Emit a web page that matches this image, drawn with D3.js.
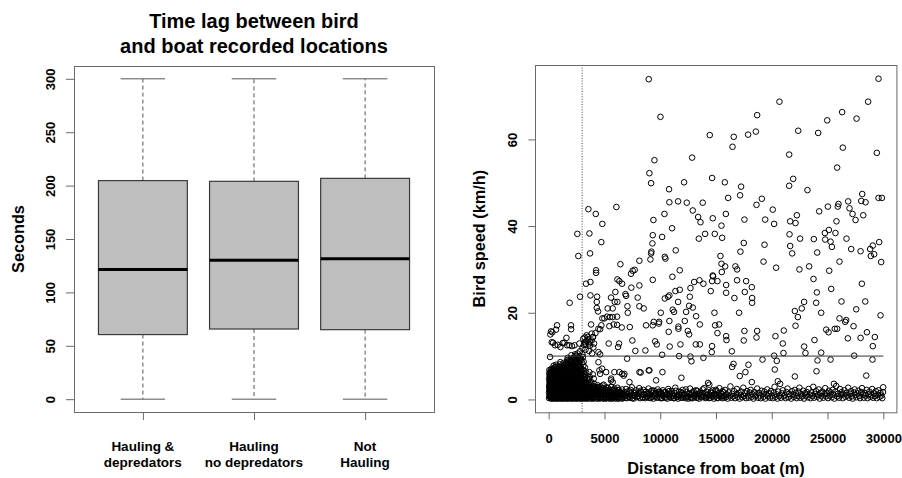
<!DOCTYPE html>
<html><head><meta charset="utf-8">
<script src="https://cdn.jsdelivr.net/npm/d3@7"></script>
<style>body{margin:0;background:#fff}svg{display:block}</style>
</head><body><svg width="902" height="478"></svg>
<script>
// ---------- data: left panel (boxplot of time lag, seconds) ----------
const groupLabels = [["Hauling &","depredators"],["Hauling","no depredators"],["Not","Hauling"]];
const lagMin    = [0, 0, 0];
const lagQ1     = [60.5, 65.7, 65.1];
const lagMedian = [121.5, 130.2, 131.5];
const lagQ3     = [204.7, 204.0, 206.8];
const lagMax    = [300, 300, 300];
const lagTicks  = [0, 50, 100, 150, 200, 250, 300];

// ---------- data: right panel (bird speed vs distance) ----------
const distTicks  = [0, 5000, 10000, 15000, 20000, 25000, 30000];
const speedTicks = [0, 20, 40, 60];
const distanceThreshold = 3000;
const speedThreshold = 10;

// [distance (m), speed (km/h)] : dense cluster near the boat
const clusterPoints = [
[40,0.3],[70,0.9],[30,1.6],[60,2.4],[45,3.1],[75,4.0],[35,4.8],[55,5.9],[65,6.8],
[140,0.6],[170,1.2],[130,2.0],[160,2.9],[150,3.6],[180,4.5],[125,5.4],[165,6.3],
[240,0.2],[270,0.8],[230,1.5],[260,2.2],[245,3.3],[275,4.1],[235,5.0],[255,6.0],[265,7.1],
[340,0.5],[370,1.1],[330,1.9],[360,2.7],[345,3.5],[375,4.4],[335,5.3],[355,6.4],
[440,0.3],[470,1.0],[430,1.7],[460,2.5],[445,3.2],[475,4.0],[435,4.9],[455,5.8],[465,6.9],[450,7.8],
[550,0.7],[580,1.4],[540,2.1],[570,3.0],[555,3.8],[585,4.7],[545,5.6],[565,6.6],
[650,0.2],[680,0.9],[640,1.6],[670,2.4],[655,3.4],[685,4.2],[645,5.1],[665,6.1],[675,7.2],[660,8.0],
[760,0.5],[790,1.2],[750,2.0],[780,2.8],[765,3.6],[795,4.5],[755,5.5],[775,6.4],
[870,0.3],[900,1.0],[860,1.8],[890,2.6],[875,3.3],[905,4.3],[865,5.2],[885,6.0],[895,7.0],
[980,0.6],[1010,1.3],[970,2.2],[1000,3.0],[985,3.9],[1015,4.8],[975,5.7],[995,6.7],[1005,8.1],
[1090,0.2],[1120,0.9],[1080,1.7],[1110,2.5],[1095,3.4],[1125,4.4],[1085,5.3],[1105,6.2],
[1200,0.5],[1230,1.2],[1190,2.0],[1220,2.9],[1205,3.7],[1235,4.6],[1195,5.6],[1215,7.0],
[1310,0.3],[1340,1.0],[1300,1.8],[1330,2.7],[1315,3.5],[1345,4.3],[1305,5.1],[1325,6.3],[1335,8.4],
[1420,0.7],[1450,1.4],[1410,2.3],[1440,3.1],[1425,4.0],[1455,4.9],[1415,6.0],[1435,7.4],
[1530,0.2],[1560,0.9],[1520,1.6],[1550,2.5],[1535,3.3],[1565,4.2],[1525,5.4],[1545,6.6],
[1640,0.5],[1670,1.2],[1630,2.1],[1660,2.9],[1645,3.8],[1675,4.7],[1635,5.8],[1655,7.9],[1665,9.1],
[1750,0.3],[1780,1.0],[1740,1.9],[1770,2.7],[1755,3.6],[1785,4.5],[1745,6.2],[1765,7.2],
[1860,0.6],[1890,1.4],[1850,2.2],[1880,3.2],[1865,4.1],[1895,5.1],[1855,6.9],[1875,8.6],
[1970,0.2],[2000,1.1],[1960,1.8],[1990,2.6],[1975,3.5],[2005,4.6],[1965,5.7],[1985,7.7],[1995,9.4],
[2080,0.5],[2110,1.3],[2070,2.3],[2100,3.1],[2085,4.0],[2115,5.3],[2075,6.5],[2095,8.3],
[2190,0.3],[2220,1.0],[2180,1.9],[2210,2.8],[2195,3.9],[2225,5.0],[2185,6.2],[2205,7.5],[2215,9.6],
[2300,0.6],[2330,1.5],[2290,2.4],[2320,3.4],[2305,4.4],[2335,5.8],[2295,7.0],[2315,8.9],
[2410,0.2],[2440,1.1],[2400,2.0],[2430,3.0],[2415,4.2],[2445,5.5],[2405,6.8],[2425,8.2],[2435,9.9],
[2520,0.5],[2550,1.4],[2510,2.5],[2540,3.6],[2525,4.9],[2555,6.3],[2515,7.6],[2535,9.3],
[2630,0.3],[2660,1.0],[2620,2.1],[2650,3.3],[2635,4.6],[2665,6.0],[2625,8.0],[2645,9.7],
[2740,0.6],[2770,1.5],[2730,2.6],[2760,3.9],[2745,5.2],[2775,7.1],[2735,8.8],
[2850,0.2],[2880,1.2],[2840,2.3],[2870,3.5],[2855,4.8],[2885,6.7],[2845,9.0],
[2960,0.5],[2990,1.6],[2950,2.9],[2980,4.3],[2965,5.9],[2995,8.5],
[3070,0.3],[3100,1.3],[3060,2.4],[3090,3.8],[3075,5.5],[3105,7.8],[3065,9.8],
[3180,0.6],[3210,1.7],[3170,3.0],[3200,4.6],[3185,6.6],
[3290,0.2],[3320,1.2],[3280,2.5],[3310,4.1],[3295,5.8],
[3410,0.5],[3440,1.6],[3400,2.9],[3430,4.9],
[3540,0.3],[3570,1.4],[3530,2.6],[3560,4.4],
[3670,0.6],[3700,1.8],[3660,3.3],[3690,5.2],
[3800,0.2],[3830,1.3],[3790,2.7],[3820,4.0],
[3930,0.5],[3960,1.7],[3920,3.1],
[4070,0.3],[4100,1.2],[4060,2.4],[4090,3.6],
[4210,0.6],[4240,1.6],[4200,2.9],
[4350,0.2],[4380,1.1],[4340,2.2],[4370,3.3],
[4490,0.5],[4520,1.5],[4480,2.6],
[4630,0.3],[4660,1.2],[4620,2.0],[4650,3.0],
[4770,0.6],[4800,1.7],[4760,2.5],
[4910,0.2],[4940,1.0],[4900,2.1],[4930,3.4],
[5050,0.5],[5080,1.4],[5040,2.4],
[5190,0.3],[5220,1.1],[5180,1.9],[5210,2.8],
[5330,0.7],[5360,1.6],[5320,2.6],
[5470,0.2],[5500,1.2],[5460,2.2],
[5610,0.5],[5640,1.5],[5600,2.9],
[5750,0.3],[5780,1.0],[5740,2.0],
[5890,0.6],[5920,1.4],[5880,2.5],
[6030,0.2],[6060,1.1],[6020,1.9],
[6170,0.5],[6200,1.6],[6160,2.7],
[6310,0.3],[6340,1.2],[6300,2.1],
[6450,0.6],[6480,1.5],
[6590,0.2],[6620,1.0],[6580,2.3]
];

// [distance (m), speed (km/h)] : more fixes inside the near-boat cluster
const clusterPoints2 = [
[95,0.6],[95,1.3],[95,2.0],[95,2.8],[95,3.6],[95,4.4],[95,5.3],[95,6.2],
[195,0.3],[195,1.0],[195,1.7],[195,2.5],[195,3.2],[195,4.0],[195,4.9],[195,5.8],[195,6.7],
[295,0.6],[295,1.2],[295,1.9],[295,2.6],[295,3.8],[295,4.6],[295,5.5],[295,6.6],
[395,0.2],[395,0.8],[395,1.5],[395,2.3],[395,3.1],[395,4.0],[395,4.8],[395,5.9],[395,7.0],
[505,0.5],[505,1.1],[505,1.8],[505,2.7],[505,3.5],[505,4.4],[505,5.2],[505,6.3],[505,7.3],
[615,0.3],[615,1.2],[615,1.9],[615,2.8],[615,3.7],[615,4.6],[615,5.5],[615,6.6],[615,7.5],
[715,0.6],[715,1.4],[715,2.2],[715,3.1],[715,3.9],[715,4.9],[715,5.8],[715,6.8],
[825,0.2],[825,0.8],[825,1.5],[825,2.3],[825,3.0],[825,3.9],[825,4.8],[825,5.6],[825,6.6],[825,7.6],
[935,0.5],[935,1.1],[935,1.9],[935,2.7],[935,3.6],[935,4.5],[935,5.4],[935,6.4],[935,7.4],
[1045,0.3],[1045,1.0],[1045,1.8],[1045,2.6],[1045,3.5],[1045,4.3],[1045,5.2],[1045,6.1],[1045,7.2],[1045,8.6],
[1155,0.6],[1155,1.3],[1155,2.1],[1155,3.0],[1155,3.9],[1155,4.9],[1155,5.8],[1155,6.8],[1155,7.8],
[1265,0.2],[1265,0.9],[1265,1.6],[1265,2.4],[1265,3.2],[1265,4.1],[1265,5.0],[1265,6.0],[1265,7.5],
[1375,0.5],[1375,1.2],[1375,2.0],[1375,2.9],[1375,3.8],[1375,4.7],[1375,5.6],[1375,6.8],[1375,7.9],
[1485,0.3],[1485,1.0],[1485,1.8],[1485,2.7],[1485,3.6],[1485,4.5],[1485,5.6],[1485,6.9],[1485,8.2],
[1595,0.6],[1595,1.3],[1595,2.2],[1595,3.0],[1595,3.9],[1595,4.9],[1595,6.0],[1595,7.2],[1595,8.5],
[1705,0.2],[1705,0.9],[1705,1.7],[1705,2.5],[1705,3.4],[1705,4.3],[1705,5.3],[1705,6.6],[1705,8.2],[1705,9.6],
[1815,0.5],[1815,1.2],[1815,2.0],[1815,2.9],[1815,3.8],[1815,4.8],[1815,5.8],[1815,7.5],[1815,9.0],
[1925,0.3],[1925,1.0],[1925,1.9],[1925,2.8],[1925,3.7],[1925,4.6],[1925,6.0],[1925,7.3],[1925,8.9],
[2035,0.6],[2035,1.4],[2035,2.2],[2035,3.0],[2035,4.2],[2035,5.0],[2035,6.1],[2035,7.0],[2035,8.8],[2035,10.2],
[2145,0.2],[2145,1.0],[2145,1.7],[2145,2.6],[2145,3.5],[2145,4.5],[2145,5.6],[2145,6.9],[2145,8.0],[2145,9.2],
[2255,0.5],[2255,1.3],[2255,2.2],[2255,3.1],[2255,4.1],[2255,5.3],[2255,6.6],[2255,7.9],[2255,9.3],
[2365,0.3],[2365,1.0],[2365,1.9],[2365,2.8],[2365,3.8],[2365,5.0],[2365,6.3],[2365,7.6],[2365,9.1],[2365,10.4],
[2475,0.6],[2475,1.5],[2475,2.3],[2475,3.3],[2475,4.5],[2475,5.9],[2475,7.2],[2475,8.6],[2475,10.1],
[2585,0.2],[2585,1.1],[2585,2.0],[2585,2.9],[2585,4.2],[2585,5.6],[2585,7.0],[2585,8.5],[2585,10.6],
[2695,0.5],[2695,1.3],[2695,2.4],[2695,3.6],[2695,4.9],[2695,6.4],[2695,7.5],[2695,9.2],
[2805,0.3],[2805,1.0],[2805,2.0],[2805,3.2],[2805,4.4],[2805,5.6],[2805,7.6],[2805,9.5],[2805,11.1],
[2915,0.6],[2915,1.4],[2915,2.5],[2915,3.8],[2915,5.2],[2915,7.2],[2915,9.3],
[3025,0.2],[3025,1.1],[3025,2.1],[3025,3.3],[3025,4.8],[3025,6.8],[3025,10.4],[3025,11.8],
[3135,0.5],[3135,1.4],[3135,2.7],[3135,4.0],[3135,5.9],[3135,8.7],
[3245,0.3],[3245,1.1],[3245,2.1],[3245,3.5],[3245,5.2],[3245,7.4],
[3365,0.6],[3365,1.3],[3365,2.4],[3365,3.7],[3365,6.2],
[3485,0.2],[3485,1.1],[3485,2.2],[3485,3.6],
[3615,0.5],[3615,1.5],[3615,2.9],[3615,4.7],
[3745,0.3],[3745,1.2],[3745,2.3],[3745,3.7],
[3875,0.6],[3875,1.4],[3875,2.5],
[4005,0.2],[4005,1.0],[4005,2.0],[4005,3.0],
[4145,0.5],[4145,1.4],[4145,2.6],
[4285,0.3],[4285,1.3],[4285,2.4],
[4425,0.6],[4425,1.7],[4425,2.8],
[4565,0.2],[4565,1.0],[4565,2.2],
[4705,0.5],[4705,1.4],
[4845,0.3],[4845,1.3],[4845,2.6],
[4985,0.6],[4985,1.6],
[5125,0.2],[5125,1.2],[5125,2.2],
[5265,0.5],[5265,1.4],
[5405,0.3],[5405,1.0],[5405,2.0],
[5545,0.6],[5545,1.7],
[5685,0.2],[5685,1.3],
[5825,0.5],[5825,1.1],[5825,2.2],
[5965,0.3],[5965,1.5],
[6105,0.6],[6105,1.2],
[6245,0.2],[6245,1.0],[6245,2.2],
[6385,0.5],[6385,1.6],
[6525,0.3],[6525,1.2]
];

// [distance (m), speed (km/h)] : slow band along the bottom
const bandPoints = [
[6700,0.5],[6770,1.6],[6850,0.9],[6920,2.4],[7000,0.3],[7070,1.2],[7150,0.7],[7220,1.9],[7300,0.4],[7370,1.4],
[7450,2.8],[7520,0.8],[7600,0.2],[7670,1.5],[7750,1.0],[7820,2.1],[7900,0.5],[7970,1.3],[8050,0.8],[8120,2.6],
[8200,0.3],[8270,1.7],[8350,1.0],[8420,0.5],[8500,2.2],[8570,1.2],[8650,0.3],[8720,1.8],[8800,0.7],[8870,1.3],
[8950,2.5],[9020,0.4],[9100,1.1],[9170,1.9],[9250,0.6],[9320,1.4],[9400,0.2],[9470,2.0],[9550,0.9],[9620,1.5],
[9700,0.4],[9770,2.3],[9850,1.0],[9920,0.6],[10000,1.7],
[10080,1.5],[10160,0.3],[10240,2.1],[10310,0.9],[10400,0.5],[10470,1.7],[10550,1.1],[10630,0.2],[10720,2.4],[10790,0.7],
[10870,1.3],[10960,0.4],[11030,1.9],[11110,0.8],[11200,0.3],[11280,1.5],[11350,2.7],[11440,0.6],[11520,1.0],[11600,0.2],
[11690,1.8],[11760,0.9],[11850,0.4],[11930,1.4],[12010,2.2],[12090,0.6],[12170,1.2],[12260,0.3],[12340,1.7],[12420,0.8],
[12500,0.2],[12590,1.4],[12670,2.5],[12740,0.5],[12830,1.1],[12910,0.3],[12990,1.9],[13070,0.7],[13160,1.3],[13240,0.4],
[13320,2.0],[13400,0.9],[13490,0.2],[13570,1.6],[13650,1.0],[13730,0.5],[13820,2.3],[13900,0.8],[13980,1.4],[14060,0.3],
[14150,1.8],[14230,0.6],[14310,1.1],[14400,3.4],[14480,0.4],[14560,1.5],[14640,0.9],[14720,2.1],[14810,0.2],[14890,1.3],
[14970,0.7],[15050,1.9],[15140,0.4],[15220,1.0],[15300,2.6],[15380,0.6],[15470,1.4],[15550,0.3],[15630,1.7],[15710,0.8],
[15800,2.2],[15880,0.5],[15960,1.2],[16040,0.2],[16130,1.6],[16210,0.9],[16290,3.0],[16370,0.4],[16460,1.3],[16540,0.7],
[16620,1.9],[16700,0.3],[16790,1.1],[16870,2.4],[16950,0.6],[17030,1.5],[17120,0.2],[17200,1.0],[17280,1.8],[17360,0.5],
[17450,2.7],[17530,0.8],[17610,1.4],[17690,0.3],[17780,1.9],[17860,0.9],[17940,0.4],[18020,1.6],[18110,2.2],[18190,0.6],
[18270,1.2],[18350,0.2],[18440,1.7],[18520,0.7],[18600,1.1],[18690,2.5],[18770,0.4],[18850,1.5],[18930,0.9],[19010,0.3],
[19100,2.0],[19180,1.3],[19260,0.6],[19340,1.8],[19430,0.2],[19510,1.1],[19590,2.3],[19670,0.7],[19760,1.4],[19840,0.4],
[19920,1.9],[20000,0.9],[20090,0.3],[20170,1.6],[20250,2.9],[20330,0.6],[20420,1.2],[20500,0.2],[20580,1.8],[20660,0.8],
[20750,3.6],[20830,0.4],[20910,1.4],[20990,2.1],[21080,0.7],[21160,1.0],[21240,0.3],[21320,1.7],[21410,2.5],[21490,0.5],
[21570,1.3],[21650,0.9],[21740,0.2],[21820,1.9],[21900,1.1],[21980,0.6],[22070,2.2],[22150,1.5],[22230,0.3],[22310,0.8],
[22400,1.8],[22480,2.7],[22560,0.4],[22640,1.2],[22730,0.7],[22810,2.0],[22890,0.2],[22970,1.4],[23060,0.9],[23140,1.7],
[23220,0.5],[23300,2.4],[23390,1.1],[23470,0.3],[23550,1.6],[23630,0.8],[23720,2.9],[23800,0.4],[23880,1.3],[23960,1.9],
[24050,0.6],[24130,1.0],[24210,2.3],[24290,0.2],[24380,1.5],[24460,0.8],[24540,1.8],[24620,0.4],[24710,1.2],[24790,2.6],
[24870,0.7],[24950,1.4],[25040,0.3],[25120,2.0],[25200,0.9],[25280,1.6],[25370,0.5],[25450,2.2],[25530,1.1],[25610,0.2],
[25700,1.8],[25780,3.1],[25860,0.7],[25940,1.3],[26030,0.4],[26110,2.4],[26190,1.0],[26270,1.7],[26360,0.3],[26440,1.2],
[26520,2.1],[26600,0.6],[26690,1.5],[26770,0.9],[26850,2.7],[26930,0.4],[27020,1.3],[27100,1.9],[27180,0.7],[27260,0.2],
[27350,1.6],[27430,2.3],[27510,1.0],[27590,0.5],[27680,1.4],[27760,2.0],[27840,0.8],[27920,0.3],[28010,1.7],[28090,2.6],
[28170,1.1],[28250,0.4],[28340,1.5],[28420,0.9],[28500,2.2],[28580,0.3],[28670,1.2],[28750,1.8],[28830,0.6],[28910,1.0],
[29000,2.4],[29080,0.4],[29160,1.4],[29240,0.8],[29330,1.9],[29410,0.3],[29490,1.1],[29570,2.1],[29660,0.6],[29740,1.5],
[29820,0.9],[29900,0.3],[29970,1.7],[29990,2.8]
];

// [distance (m), speed (km/h)] : extra slow fixes, 6.7–16 km from the boat
const bandPoints2 = [
[6740,1.1],[6890,0.4],[7040,1.8],[7190,0.6],[7340,2.2],[7490,0.3],[7640,1.0],[7790,1.6],[7940,0.7],[8090,1.4],
[8240,2.0],[8390,0.4],[8540,1.1],[8690,1.7],[8840,0.5],[8990,1.2],[9140,0.3],[9290,2.1],[9440,0.8],[9590,1.3],
[9740,0.5],[9890,1.8],[10040,0.3],[10190,1.1],[10340,1.6],[10490,0.4],[10640,1.3],[10790,1.9],[10940,0.7],[11090,1.2],
[11240,0.3],[11390,2.0],[11540,0.6],[11690,1.1],[11840,1.7],[11990,0.4],[12140,1.0],[12290,2.3],[12440,0.6],[12590,1.2],
[12740,0.3],[12890,1.6],[13040,0.9],[13190,2.1],[13340,0.4],[13490,1.3],[13640,0.7],[13790,1.5],[13940,2.6],[14090,0.5],
[14240,1.1],[14390,0.3],[14540,1.8],[14690,0.6],[14840,1.2],[14990,2.2],[15140,0.3],[15290,1.5],[15440,0.8],[15590,1.9],
[15740,0.4],[15890,1.0]
];

// [distance (m), speed (km/h)] : scattered faster fixes
const scatterPoints = [
[8970,73.9],[29570,74.0],[10020,65.2],[18690,65.6],[20690,68.7],[26310,66.3],[27600,64.8],[24970,64.4],[28640,68.7],
[14440,61.0],[16590,60.6],[16480,58.3],[17880,61.1],[18570,61.8],[22370,62.0],[24160,61.5],[26370,58.1],[29420,56.9],
[12860,55.8],[9480,55.2],[21560,56.5],[25860,53.5],[9030,52.2],[9180,49.9],[14650,51.1],[12140,50.1],[21920,50.9],
[21560,49.3],[15790,50.1],[17250,49.1],[23200,48.3],[10790,48.5],[11600,45.7],[10820,45.5],[12380,45.4],[13810,45.4],
[16090,46.5],[17160,47.1],[19110,46.3],[18630,44.9],[10380,42.8],[12920,43.6],[13400,42.1],[13610,40.9],[14020,38.2],
[13460,37.1],[14890,38.2],[15880,42.8],[14710,41.8],[15490,40.1],[15550,37.3],[17550,41.5],[17490,36.1],[19350,35.7],
[19260,31.8],[19410,41.5],[20090,43.8],[20210,40.5],[20390,30.4],[21650,41.1],[22130,40.7],[22250,42.5],[21590,38.1],
[21650,35.4],[21830,33.7],[22540,37.1],[22480,30.0],[23350,30.7],[23770,37.0],[24070,33.9],[24250,43.4],[25030,44.5],
[24760,38.4],[25120,39.1],[24790,36.9],[25270,36.4],[25390,35.2],[25710,38.4],[25800,41.1],[25920,44.5],[26070,31.8],
[25980,45.1],[26850,45.7],[26970,44.1],[26700,37.1],[27120,34.7],[27240,42.8],[27510,41.4],[27960,34.2],[28110,47.4],
[28020,45.8],[28410,45.5],[28200,42.5],[28820,34.7],[29060,35.5],[28880,33.1],[29180,33.5],[29570,46.5],[29870,46.5],
[29630,36.3],[29810,31.7],[29750,19.4],[29240,14.4],[29060,12.3],[29030,9.2],[28470,5.5],[28530,15.5],[28380,22.6],
[28080,26.7],[27960,14.2],[27330,16.9],[27570,20.8],[27390,10.1],[26820,14.1],[26670,18.3],[26580,17.9],[26250,22.6],
[26070,18.7],[25860,16.3],[25650,16.3],[25330,25.5],[25150,29.7],[25090,15.5],[24880,16.1],[25270,9.2],[25570,3.6],
[24430,20.0],[24040,24.7],[23980,22.3],[23740,27.8],[24010,6.5],[24100,9.0],[24430,10.8],[23830,13.7],[22900,22.5],
[22690,21.0],[22340,19.0],[22070,20.4],[22130,17.0],[22900,12.2],[23020,10.7],[22070,5.3],[21080,15.9],[20990,12.9],
[21050,10.7],[20330,14.6],[20450,8.9],[20270,6.9],[20210,10.1],[20540,4.2],[19170,9.2],[18690,15.8],[18630,14.3],
[18210,25.9],[18240,23.4],[18240,22.3],[17700,27.3],[17580,24.8],[17550,15.8],[17490,13.6],[17190,34.1],[17070,20.0],
[17910,8.0],[17640,6.3],[17130,5.4],[18210,4.0],[16890,30.0],[16740,30.7],[16890,27.5],[16650,23.4],[15910,26.4],
[15910,24.6],[16420,11.1],[16570,8.2],[16450,7.5],[15910,14.6],[15940,13.7],[15400,33.1],[15490,31.3],[15820,30.7],
[15520,29.4],[15130,27.3],[14710,28.6],[14650,27.3],[14530,25.0],[14740,28.4],[14860,20.0],[15280,17.3],[14920,17.1],
[15130,15.3],[14650,12.3],[14620,10.9],[14290,3.8],[13870,26.7],[13520,27.5],[13040,27.1],[12710,25.7],[12650,23.7],
[12590,21.6],[12920,21.2],[13220,19.2],[13550,17.3],[12590,15.0],[13190,12.7],[13550,12.7],[13870,9.6],[12710,9.9],
[12800,8.8],[12470,15.8],[12320,20.2],[12200,18.1],[11750,25.3],[11750,29.8],[11600,22.5],[11630,16.8],[11630,16.3],
[11810,12.7],[11900,5.0],[11690,10.0],[11390,34.4],[11360,25.0],[11090,28.3],[11120,20.7],[11240,20.2],[10820,24.0],
[10700,23.7],[10410,23.3],[10820,18.1],[10760,15.6],[10850,12.2],[11060,39.5],[10410,32.9],[10470,32.5],[10170,37.5],
[10050,20.0],[10170,10.3],[10200,6.3],[9870,17.5],[9900,17.9],[9390,41.4],[9330,37.9],[9300,36.0],[9210,34.1],
[9180,33.7],[9120,32.3],[9330,27.6],[9420,17.9],[9330,17.1],[9540,13.4],[9690,12.7],[9630,4.4],[8970,6.7],
[8730,17.1],[8670,11.3],[8130,32.0],[8130,26.3],[7980,23.5],[8130,21.5],[8520,21.0],[7770,11.2],[8250,6.2],
[7710,29.9],[7530,29.7],[7380,29.0],[7410,25.8],[7060,21.5],[7090,20.0],[7270,16.7],[7500,13.6],[7030,9.4],
[6880,24.3],[6940,23.9],[6580,26.7],[6340,27.3],[6160,27.7],[6430,31.2],[6070,44.4],[5980,24.8],[6160,22.5],
[5920,22.5],[6130,19.1],[5830,17.3],[6130,17.2],[6550,16.6],[6310,12.9],[6220,12.1],[6580,5.9],[6730,5.5],
[5590,23.5],[5740,21.0],[5500,19.0],[5740,19.0],[5290,21.0],[5230,19.1],[5440,16.9],[5380,12.9],[5590,4.4],
[5890,6.3],[4990,18.7],[4810,18.7],[4810,40.5],[4720,36.3],[4220,42.8],[4250,29.8],[4250,29.2],[4340,23.7],
[4310,22.5],[4310,21.1],[4430,20.3],[4460,16.3],[4190,15.3],[4610,16.2],[4720,17.1],[4460,10.9],[4610,10.4],
[4460,8.6],[4610,5.9],[4780,7.1],[3650,38.3],[3710,33.7],[3560,43.9],[3740,27.1],[3350,26.7],[3740,24.0],
[3800,17.3],[3860,15.2],[3980,14.4],[3680,13.3],[4070,12.9],[3890,10.6],[3950,5.8],[4040,4.8],[2570,38.2],
[2660,33.1],[2810,23.7],[1880,22.3],[2000,17.1],[750,17.1],[210,15.7],[150,15.0],[1590,14.2],[1260,13.0],
[1050,12.1],[1650,12.5],[2090,12.3],[390,13.1],[570,12.5],[120,9.8],[2750,12.9],[3230,14.3],[3320,12.7],
[3500,14.4],[3380,13.5],[3590,12.9],[3100,14.0],[3250,13.2],[3400,14.8],[3550,13.9],[3700,12.4],[3850,13.6],
[4000,12.0],[3300,11.5],[3150,12.6],[3600,11.2],[3950,14.4],[330,15.5],[660,16.1],[2010,16.2],[270,13.2],
[810,12.6],[1410,13.1],[1860,12.5],[2310,12.5],[3650,6.3],[4550,6.7],[5150,6.3],[5600,4.8],[6340,6.3],
[6790,5.9],[7240,4.0],[8140,6.3],[9030,6.7],[4840,3.2],[5740,4.0]
];

// ---------- drawing ----------
const FONT = '"Liberation Sans", Arial, Helvetica, sans-serif';
const svg = d3.select("svg").attr("font-family", FONT);
const frameColor = "#6a6a6a";

function styleAxis(g, size) {
  g.attr("font-family", FONT).attr("font-size", size).attr("font-weight", "bold");
  g.select(".domain").remove();
  g.selectAll(".tick line").attr("stroke", frameColor);
  g.selectAll(".tick text").attr("fill", "#000");
}

// ===== Left panel =====
const L = {left: 74, right: 434, top: 66, bottom: 412};
const xb = d3.scaleLinear().domain([0.38, 3.62]).range([L.left, L.right]);
const yb = d3.scaleLinear().domain([-12, 312]).range([L.bottom, L.top]);
const left = svg.append("g");

const title = left.append("text").attr("text-anchor", "middle")
  .attr("font-size", 20).attr("font-weight", "bold").attr("fill", "#000");
title.append("tspan").attr("x", (L.left + L.right) / 2).attr("y", 28).text("Time lag between bird");
title.append("tspan").attr("x", (L.left + L.right) / 2).attr("y", 52.5).text("and boat recorded locations");

const boxHalf = 0.4, capHalf = 0.2;
groupLabels.forEach((lab, i) => {
  const c = i + 1, cx = xb(c);
  const g = left.append("g");
  g.append("line").attr("x1", cx).attr("x2", cx).attr("y1", yb(lagQ3[i])).attr("y2", yb(lagMax[i]))
    .attr("stroke", "#555").attr("stroke-dasharray", "4,3");
  g.append("line").attr("x1", cx).attr("x2", cx).attr("y1", yb(lagQ1[i])).attr("y2", yb(lagMin[i]))
    .attr("stroke", "#555").attr("stroke-dasharray", "4,3");
  [lagMax[i], lagMin[i]].forEach(v => {
    g.append("line").attr("x1", xb(c - capHalf)).attr("x2", xb(c + capHalf))
      .attr("y1", yb(v)).attr("y2", yb(v)).attr("stroke", "#555");
  });
  g.append("rect").attr("x", xb(c - boxHalf)).attr("width", xb(c + boxHalf) - xb(c - boxHalf))
    .attr("y", yb(lagQ3[i])).attr("height", yb(lagQ1[i]) - yb(lagQ3[i]))
    .attr("fill", "#bebebe").attr("stroke", "#3a3a3a").attr("stroke-width", 1.2);
  g.append("line").attr("x1", xb(c - boxHalf)).attr("x2", xb(c + boxHalf))
    .attr("y1", yb(lagMedian[i])).attr("y2", yb(lagMedian[i]))
    .attr("stroke", "#000").attr("stroke-width", 3);
});

left.append("rect").attr("x", L.left + 0.5).attr("y", L.top + 0.5)
  .attr("width", L.right - L.left).attr("height", L.bottom - L.top)
  .attr("fill", "none").attr("stroke", frameColor);

const yAxisL = left.append("g").attr("transform", `translate(${L.left},0)`)
  .call(d3.axisLeft(yb).tickValues(lagTicks).tickSize(8));
styleAxis(yAxisL, 13);
yAxisL.selectAll(".tick text").attr("x", 0).attr("dy", "0.35em").attr("text-anchor", "middle")
  .attr("transform", "translate(-24,0) rotate(-90)");

const xAxisL = left.append("g").attr("transform", `translate(0,${L.bottom})`)
  .call(d3.axisBottom(xb).tickValues([1, 2, 3]).tickSize(8).tickFormat(""));
styleAxis(xAxisL, 13);
groupLabels.forEach((lab, i) => {
  const t = left.append("text").attr("text-anchor", "middle").attr("font-size", 13.5)
    .attr("font-weight", "bold").attr("fill", "#000");
  t.append("tspan").attr("x", xb(i + 1)).attr("y", 451).text(lab[0]);
  t.append("tspan").attr("x", xb(i + 1)).attr("y", 467).text(lab[1]);
});

left.append("text").attr("transform", `translate(24,${(L.top + L.bottom) / 2}) rotate(-90)`)
  .attr("text-anchor", "middle").attr("font-size", 16.3).attr("font-weight", "bold")
  .attr("fill", "#000").text("Seconds");

// ===== Right panel =====
const R = {left: 535.3, right: 896.7, top: 65, bottom: 412.3};
const xs = d3.scaleLinear().domain([-1200, 31200]).range([R.left, R.right]);
const ys = d3.scaleLinear().domain([-2.97, 77.17]).range([R.bottom, R.top]);
const right = svg.append("g");

right.append("line").attr("x1", xs(distanceThreshold)).attr("x2", xs(distanceThreshold))
  .attr("y1", R.top).attr("y2", R.bottom)
  .attr("stroke", "#333").attr("stroke-width", 0.9).attr("stroke-dasharray", "1,1.6");

const allPoints = clusterPoints.concat(clusterPoints2, bandPoints, bandPoints2, scatterPoints);
right.append("g").selectAll("circle").data(allPoints).join("circle")
  .attr("cx", d => xs(d[0])).attr("cy", d => ys(d[1])).attr("r", 2.8)
  .attr("fill", "none").attr("stroke", "#000").attr("stroke-width", 1);

right.append("line").attr("x1", xs(0)).attr("x2", xs(30000))
  .attr("y1", ys(speedThreshold)).attr("y2", ys(speedThreshold))
  .attr("stroke", "#333").attr("stroke-width", 1);

right.append("rect").attr("x", Math.round(R.left) + 0.5).attr("y", R.top + 0.5)
  .attr("width", R.right - R.left).attr("height", R.bottom - R.top)
  .attr("fill", "none").attr("stroke", frameColor);

const xAxisR = right.append("g").attr("transform", `translate(0,${R.bottom})`)
  .call(d3.axisBottom(xs).tickValues(distTicks).tickSize(7).tickPadding(14).tickFormat(d3.format("d")));
styleAxis(xAxisR, 13);

const yAxisR = right.append("g").attr("transform", `translate(${R.left},0)`)
  .call(d3.axisLeft(ys).tickValues(speedTicks).tickSize(7));
styleAxis(yAxisR, 13);
yAxisR.selectAll(".tick text").attr("x", 0).attr("dy", "0.35em").attr("text-anchor", "middle")
  .attr("transform", "translate(-23,0) rotate(-90)");

right.append("text").attr("x", (R.left + R.right) / 2).attr("y", 474)
  .attr("text-anchor", "middle").attr("font-size", 16.3).attr("font-weight", "bold")
  .attr("fill", "#000").text("Distance from boat (m)");
right.append("text").attr("transform", `translate(485,${(R.top + R.bottom) / 2}) rotate(-90)`)
  .attr("text-anchor", "middle").attr("font-size", 16.3).attr("font-weight", "bold")
  .attr("fill", "#000").text("Bird speed (km/h)");
</script>
</body></html>
